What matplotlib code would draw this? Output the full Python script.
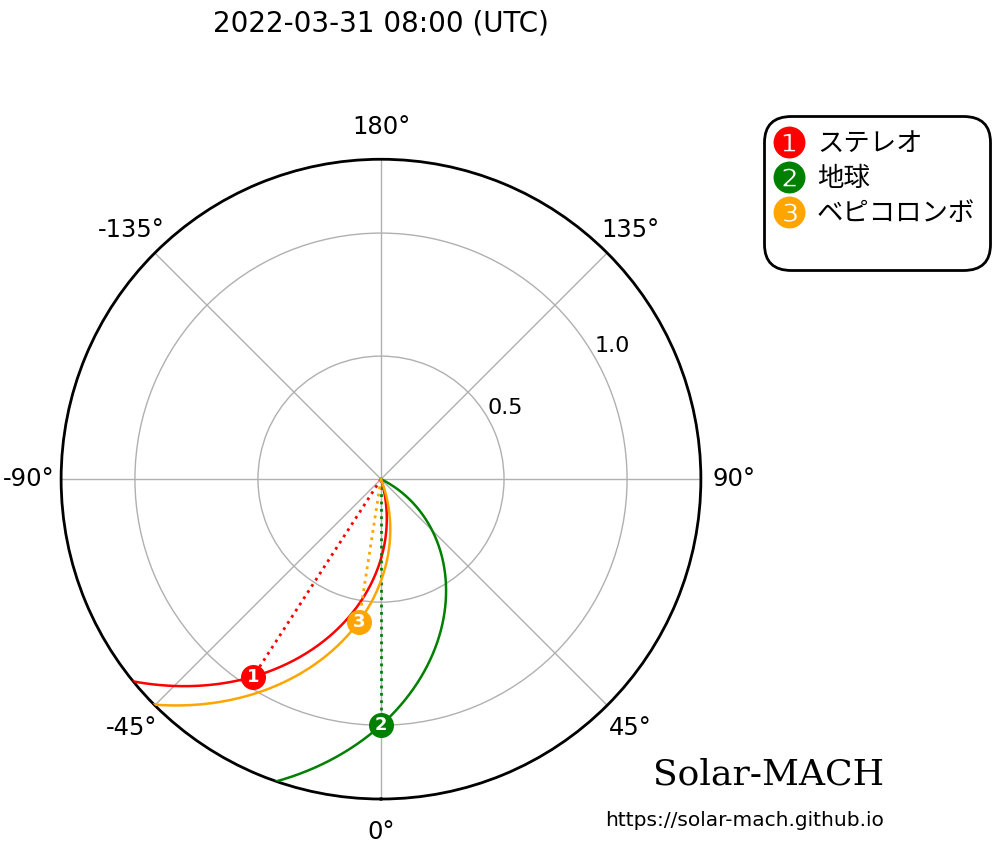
import numpy as np
import matplotlib
matplotlib.use("Agg")
import matplotlib.pyplot as plt
from matplotlib.lines import Line2D

plt.rcParams['font.family'] = ['DejaVu Sans']

# body data (longitude relative to Earth in deg, distance in AU, solar wind km/s)
names = ['ステレオ', '地球', 'ベピコロンボ']
numbers = ['1', '2', '3']
legend_marks = ['$\u2776$', '$\u2777$', '$\u2778$']
colors = ['red', 'green', 'orange']
lons = [-32.9, 0.0, -8.85]
dists = [0.956, 1.0, 0.587]
vsw = [490, 400, 500]

title = '2022-03-31 08:00 (UTC)'
rmax = 1.3

# rotation rate of the sun (deg/day) and AU in km
omega = 14.713
au = 1.496e8

fig = plt.figure(figsize=(10, 8.44), dpi=100)
ax = fig.add_axes([0.06, 0.0533, 0.642, 0.758], projection='polar')
ax.set_theta_zero_location('S')
ax.set_theta_direction(1)

r = np.linspace(0, 1.6, 400)
for name, num, col, lon, d, v in zip(names, numbers, colors, lons, dists, vsw):
    k = omega * au / (v * 86400)  # deg per AU
    spiral = lon + (d - r) * k
    ax.plot(np.deg2rad(spiral), r, color=col, lw=1.8, zorder=3)
    ax.plot([np.deg2rad(lon), np.deg2rad(lon)], [0, d], color=col, ls=':', lw=2, zorder=3)
    ax.plot(np.deg2rad(lon), d, 'o', color=col, ms=17, zorder=5)
    ax.text(np.deg2rad(lon), d, num, color='white', fontsize=13, fontweight='bold',
            ha='center', va='center', zorder=6)

ax.set_rmax(rmax)
ax.set_rticks([0.5, 1.0])
ax.set_yticklabels(['0.5', '1.0'])
ax.set_rlabel_position(120)
ax.set_thetagrids([0, 45, 90, 135, 180, 225, 270, 315],
                  ['0°', '45°', '90°', '135°', '180°', '-135°', '-90°', '-45°'])
ax.tick_params(axis='x', labelsize=17.5, pad=13)
ax.tick_params(axis='y', labelsize=16)
ax.grid(color='#b0b0b0', lw=1)
ax.spines['polar'].set_linewidth(2)

handles = [Line2D([], [], ls='', marker=m, color=c, ms=22) for m, c in zip(legend_marks, colors)]
handles.append(Line2D([], [], ls='', marker=None))
leg = fig.legend(handles, names + [''], loc='upper right', bbox_to_anchor=(0.995, 0.869),
                 prop={'family': ['Noto Sans CJK JP', 'DejaVu Sans'], 'size': 19},
                 handlelength=0.8, handletextpad=0.65, labelspacing=0.3,
                 borderpad=0.25, framealpha=1)
leg.get_texts()[3].set_fontsize(8)
frame = leg.get_frame()
frame.set_edgecolor('black')
frame.set_linewidth(2)
frame.set_boxstyle('round', rounding_size=1.0)

fig.text(0.381, 0.972, title, fontsize=20, ha='center', va='center')
fig.text(0.884, 0.07, 'Solar-MACH', fontsize=26, family='DejaVu Serif', ha='right', va='baseline')
fig.text(0.884, 0.021, 'https://solar-mach.github.io', fontsize=14.5, ha='right', va='baseline')

fig.savefig('out.png', dpi=100)
